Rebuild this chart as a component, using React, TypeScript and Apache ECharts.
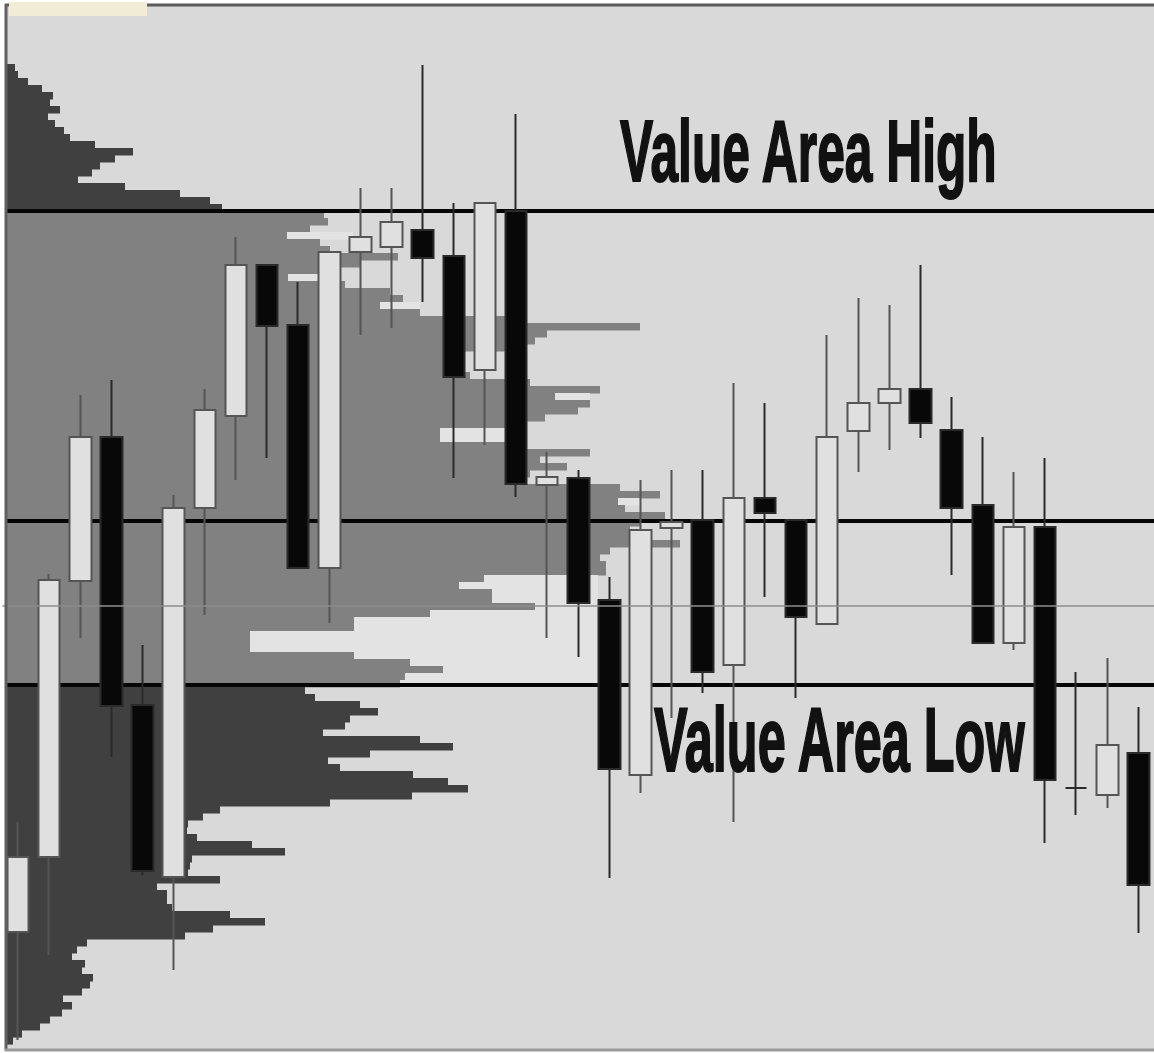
import { useEffect, useRef } from "react";
import * as echarts from "echarts";

// ---- Candles (price units) ----
const candleLabels = [
  "1", "2", "3", "4", "5", "6", "7", "8", "9", "10", "11", "12", "13", "14", "15", "16", "17", "18", "19",
  "20", "21", "22", "23", "24", "25", "26", "27", "28", "29", "30", "31", "32", "33", "34", "35", "36", "37",
];
const opens = [11.8, 19.3, 46.9, 61.3, 34.5, 17.3, 54.2, 63.4, 78.5, 72.5, 48.2, 79.8, 80.3, 82.0, 79.4, 68.0, 83.9, 56.5, 57.2, 45.0, 27.5, 52.2, 53.0, 38.5, 55.2, 53.0, 42.6, 61.9, 64.7, 66.1, 62.0, 54.5, 40.7, 52.3, 26.2, 25.5, 29.7];
const closes = [19.3, 47.0, 61.3, 34.4, 17.9, 54.2, 64.0, 78.5, 72.4, 48.2, 79.8, 81.3, 82.8, 79.2, 67.3, 84.7, 56.6, 57.3, 44.7, 28.1, 52.0, 52.8, 37.8, 55.2, 53.7, 43.3, 61.3, 64.7, 66.1, 62.7, 54.2, 40.7, 52.3, 27.0, 26.2, 30.5, 16.5];
const lows = [1.0, 9.5, 41.2, 29.3, 17.5, 8.0, 43.5, 57.0, 59.2, 48.2, 42.7, 71.5, 72.2, 74.8, 57.2, 60.5, 55.3, 41.2, 39.3, 17.2, 25.7, 33.2, 35.7, 22.8, 45.3, 35.2, 42.6, 57.8, 60.0, 61.2, 47.5, 40.7, 40.0, 20.7, 23.5, 24.2, 11.7];
const highs = [22.8, 47.6, 65.5, 67.0, 40.5, 55.5, 66.1, 81.3, 78.5, 76.8, 79.8, 86.2, 86.2, 98.5, 84.7, 84.7, 93.6, 59.8, 58.0, 47.3, 57.0, 58.0, 58.0, 66.7, 64.7, 53.0, 71.5, 75.2, 74.5, 78.5, 65.3, 61.3, 57.8, 59.2, 37.8, 39.2, 34.3];

// ---- Key levels ----
const valueAreaHigh = 83.9;
const pointOfControl = 52.9;
const valueAreaLow = 36.5;
const referenceLevel = 44.4;
const priceMin = 0;
const priceMax = 104.5;

// ---- Volume profile (rows from the top price downwards) ----
const profileTopPrice = 98.25;
const profileStep = 0.7;
const profileVolume = [
  8, 11, 21, 35, 46, 43, 53, 41, 48, 57,
  63, 88, 126, 108, 93, 85, 71, 118, 173, 203,
  215, 317, 321, 303, 280, 313, 323, 391, 353, 333,
  281, 338, 383, 396, 373, 413, 498, 633, 540, 528,
  498, 458, 458, 458, 463, 523, 593, 548, 583, 571,
  538, 513, 433, 433, 503, 583, 533, 560, 523, 498,
  613, 653, 611, 618, 658, 633, 623, 633, 673, 603,
  593, 599, 599, 477, 452, 485, 485, 528, 423, 347,
  347, 243, 243, 243, 347, 403, 436, 398, 393, 298,
  308, 353, 371, 343, 338, 316, 413, 446, 363, 321,
  333, 406, 441, 461, 405, 323, 213, 196, 181, 180,
  190, 245, 278, 185, 183, 181, 213, 150, 160, 160,
  165, 223, 258, 206, 178, 80, 70, 65, 78, 75,
  86, 83, 75, 56, 65, 55, 43, 33, 15, 6,
];
const profileLightVolume = [
  0, 0, 0, 0, 0, 0, 0, 0, 0, 0,
  0, 0, 0, 0, 0, 0, 0, 0, 0, 0,
  0, 0, 0, 0, 346, 0, 0, 0, 0, 0,
  313, 0, 0, 0, 413, 0, 0, 0, 0, 0,
  0, 0, 0, 0, 0, 0, 0, 583, 0, 0,
  0, 0, 498, 498, 0, 0, 0, 0, 0, 0,
  0, 0, 633, 0, 0, 0, 0, 0, 0, 0,
  0, 0, 0, 591, 591, 591, 591, 591, 591, 591,
  591, 591, 591, 591, 591, 591, 591, 591, 591, 0,
  0, 0, 0, 0, 0, 0, 0, 0, 0, 0,
  0, 0, 0, 0, 0, 0, 0, 0, 0, 0,
  0, 0, 0, 0, 0, 0, 0, 0, 0, 0,
  0, 0, 0, 0, 0, 0, 0, 0, 0, 0,
  0, 0, 0, 0, 0, 0, 0, 0, 0, 0,
];
const profileMax = 1147;

const labelHigh = "Value Area High";
const labelLow = "Value Area Low";

export default function App() {
  const ref = useRef<HTMLDivElement>(null);

  useEffect(() => {
    if (!ref.current) return;
    const chart = echarts.init(ref.current, null, { renderer: "svg" });

    const candleData = opens.map((o, i) => [o, closes[i], lows[i], highs[i]]);
    const profileData = profileVolume.map((v, i) => [
      profileTopPrice - i * profileStep,
      v,
      profileLightVolume[i],
    ]);

    const option: any = {
      animation: false,
      backgroundColor: "#ffffff",
      grid: [
        { left: 2.5, top: 5, width: 1155, height: 1045, show: false },
        {
          left: 5, top: 5, width: 1149, height: 1045, show: true,
          backgroundColor: "#d9d9d9", borderWidth: 0,
        },
      ],
      xAxis: [
        { type: "category", data: candleLabels, gridIndex: 0, show: false, boundaryGap: true },
        { type: "value", gridIndex: 1, min: -2, max: profileMax, show: false },
      ],
      yAxis: [
        { type: "value", gridIndex: 0, min: priceMin, max: priceMax, show: false, splitLine: { show: false } },
        { type: "value", gridIndex: 1, min: priceMin, max: priceMax, show: false, splitLine: { show: false } },
      ],
      series: [
        {
          type: "custom",
          name: "profile",
          xAxisIndex: 1,
          yAxisIndex: 1,
          z: 1,
          silent: true,
          clip: true,
          encode: { x: 1, y: 0 },
          data: profileData,
          renderItem: (params: any, api: any) => {
            const price = api.value(0) as number;
            const vol = api.value(1) as number;
            const light = api.value(2) as number;
            const yTop = api.coord([0, price + profileStep / 2])[1];
            const h = api.size([0, profileStep])[1] + 0.6;
            const x0 = api.coord([0, price])[0];
            const xv = api.coord([vol, price])[0];
            const inside = price <= valueAreaHigh && price >= valueAreaLow;
            const children: any[] = [];
            if (light > vol) {
              const xl = api.coord([light, price])[0];
              children.push({
                type: "rect",
                shape: { x: x0, y: yTop, width: xl - x0, height: h },
                style: { fill: "#e3e3e3" },
              });
            }
            children.push({
              type: "rect",
              shape: { x: x0, y: yTop, width: xv - x0, height: h },
              style: { fill: inside ? "#818181" : "#404040" },
            });
            return { type: "group", children };
          },
          markLine: {
            z: 2,
            silent: true,
            symbol: ["none", "none"],
            label: { show: false },
            lineStyle: { color: "#050505", width: 4, type: "solid" },
            emphasis: { disabled: true },
            data: [{ yAxis: valueAreaHigh }, { yAxis: pointOfControl }, { yAxis: valueAreaLow }],
          },
        },
        {
          type: "candlestick",
          name: "price",
          xAxisIndex: 0,
          yAxisIndex: 0,
          z: 10,
          silent: true,
          barWidth: 22,
          data: candleData,
          itemStyle: {
            color: "#e0e0e0",
            color0: "#080808",
            borderColor: "#555555",
            borderColor0: "#2a2a2a",
            borderWidth: 2,
          },
          markLine: {
            z: 20,
            silent: true,
            symbol: ["none", "none"],
            label: { show: false },
            lineStyle: { color: "rgba(140,140,140,0.75)", width: 2, type: "solid" },
            emphasis: { disabled: true },
            data: [{ yAxis: referenceLevel }],
          },
        },
      ],
      graphic: [
        {
          type: "line", z: 50, silent: true,
          shape: { x1: 5, y1: 5, x2: 1154, y2: 5 },
          style: { stroke: "#5a5a5a", lineWidth: 3 },
        },
        {
          type: "line", z: 50, silent: true,
          shape: { x1: 6, y1: 4, x2: 6, y2: 1051 },
          style: { stroke: "#606060", lineWidth: 3 },
        },
        {
          type: "line", z: 50, silent: true,
          shape: { x1: 5, y1: 1050, x2: 1154, y2: 1050 },
          style: { stroke: "#9a9a9a", lineWidth: 3 },
        },
        {
          type: "rect", z: 51, silent: true,
          shape: { x: 9, y: 2, width: 138, height: 14 },
          style: { fill: "#f1ecd6" },
        },
        {
          type: "text", z: 60, silent: true,
          x: 620, y: 150, scaleX: 0.565, scaleY: 1,
          style: {
            text: labelHigh, fill: "#111111", stroke: "#111111", lineWidth: 2,
            fontFamily: "Liberation Sans", fontWeight: "bold", fontSize: 88,
            align: "left", verticalAlign: "middle",
          },
        },
        {
          type: "text", z: 60, silent: true,
          x: 654, y: 740, scaleX: 0.56, scaleY: 1,
          style: {
            text: labelLow, fill: "#111111", stroke: "#111111", lineWidth: 2,
            fontFamily: "Liberation Sans", fontWeight: "bold", fontSize: 90,
            align: "left", verticalAlign: "middle",
          },
        },
      ],
    };

    chart.setOption(option);
    return () => chart.dispose();
  }, []);

  return (
    <div
      ref={ref}
      style={{ position: "absolute", left: 0, top: 0, width: 1154, height: 1053 }}
    />
  );
}
